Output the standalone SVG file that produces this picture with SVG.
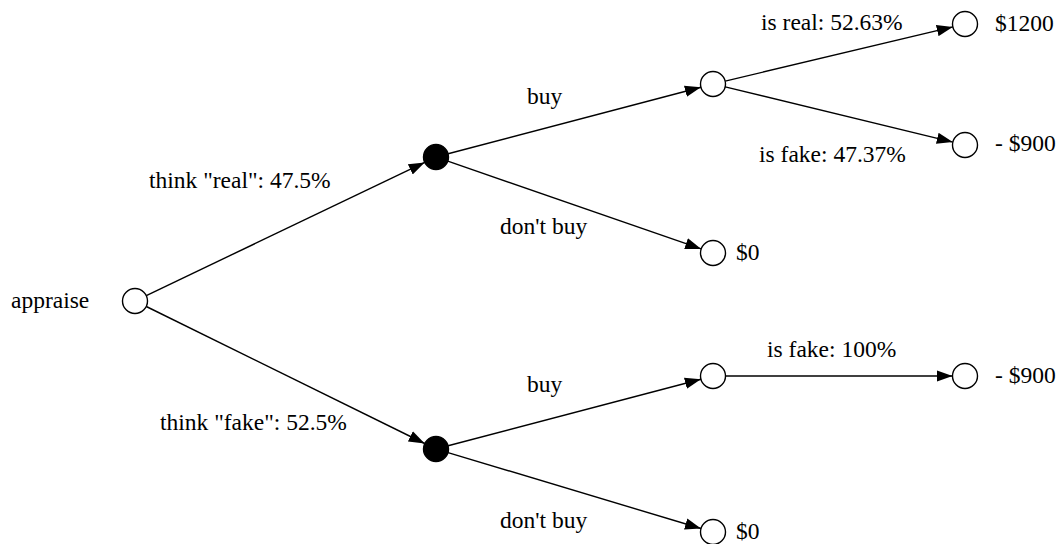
<svg xmlns="http://www.w3.org/2000/svg" width="1060" height="544" viewBox="0 0 1060 544">
<style>
.n{fill:#fff;stroke:#000;stroke-width:1.4}
.d{fill:#000;stroke:#000;stroke-width:1.4}
.e{stroke:#000;stroke-width:1.4;fill:none;marker-end:url(#a)}
text{font-family:"Liberation Serif","Times New Roman",serif;font-size:23.5px;fill:#000}
</style>
<defs>
<marker id="a" markerUnits="userSpaceOnUse" markerWidth="16" markerHeight="12" viewBox="0 0 14 10" refX="14" refY="5" orient="auto">
<path d="M0,0L14,5L0,10z" fill="#000"/>
</marker>
</defs>
<g id="edges">
<line class="e" x1="146.3" y1="295.6" x2="424.7" y2="162.4"/>
<line class="e" x1="146.3" y1="306.5" x2="424.7" y2="443.5"/>
<line class="e" x1="448.1" y1="153.8" x2="700.9" y2="87.2"/>
<line class="e" x1="447.8" y1="161.1" x2="701.2" y2="248.9"/>
<line class="e" x1="725.2" y1="81.1" x2="952.8" y2="26.9"/>
<line class="e" x1="725.2" y1="86.9" x2="952.8" y2="142.1"/>
<line class="e" x1="448.1" y1="445.8" x2="700.9" y2="379.2"/>
<line class="e" x1="448" y1="452.6" x2="701" y2="528.5"/>
<line class="e" x1="725.5" y1="376" x2="952.5" y2="376"/>
</g>
<g id="labels">
<text x="527" y="104">buy</text>
<text x="500" y="234">don't buy</text>
<text x="149" y="188">think "real": 47.5%</text>
<text x="160" y="430">think "fake": 52.5%</text>
<text x="761" y="30">is real: 52.63%</text>
<text x="759" y="162">is fake: 47.37%</text>
<text x="767" y="357">is fake: 100%</text>
<text x="527" y="392">buy</text>
<text x="500" y="528">don't buy</text>
</g>
<g id="appraise"><circle class="n" cx="135" cy="301" r="12.5"/><text x="11" y="308">appraise</text></g>
<g id="decision1"><circle class="d" cx="436" cy="157" r="12.5"/></g>
<g id="decision2"><circle class="d" cx="436" cy="449" r="12.5"/></g>
<g id="chance1"><circle class="n" cx="713" cy="84" r="12.5"/></g>
<g id="chance2"><circle class="n" cx="713" cy="376" r="12.5"/></g>
<g id="t1200"><circle class="n" cx="965" cy="24" r="12.5"/><text x="995" y="31">$1200</text></g>
<g id="t900a"><circle class="n" cx="965" cy="145" r="12.5"/><text x="995" y="151">- $900</text></g>
<g id="t0a"><circle class="n" cx="713" cy="253" r="12.5"/><text x="736" y="260">$0</text></g>
<g id="t900b"><circle class="n" cx="965" cy="376" r="12.5"/><text x="995" y="383">- $900</text></g>
<g id="t0b"><circle class="n" cx="713" cy="532" r="12.5"/><text x="736" y="539">$0</text></g>
</svg>
